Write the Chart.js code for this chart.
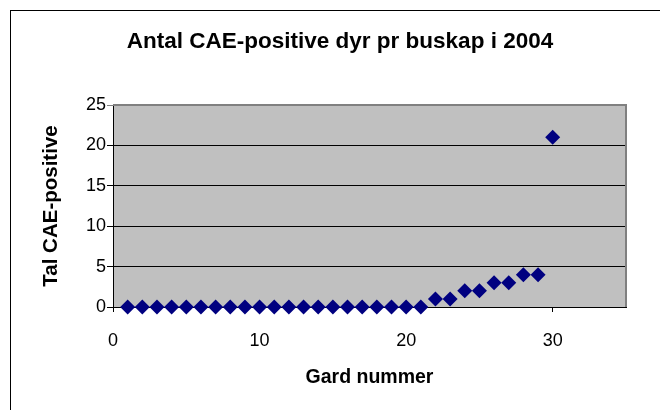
<!DOCTYPE html>
<html>
<head>
<meta charset="utf-8">
<script src="https://cdn.jsdelivr.net/npm/chart.js@4/dist/chart.umd.min.js"></script>
<style>
  body { margin: 0; background: #fff; }
  #wrap { width: 660px; height: 410px; }
</style>
</head>
<body>
<div id="wrap"><canvas id="c"></canvas></div>
<script>
// gard nummer and number of CAE-positive animals
const gard = [1, 2, 3, 4, 5, 6, 7, 8, 9, 10, 11, 12, 13, 14, 15, 16, 17, 18, 19, 20, 21, 22, 23, 24, 25, 26, 27, 28, 29, 30];
const positive = [0, 0, 0, 0, 0, 0, 0, 0, 0, 0, 0, 0, 0, 0, 0, 0, 0, 0, 0, 0, 0, 1, 1, 2, 2, 3, 3, 4, 4, 21];
const xTicks = [0, 10, 20, 30];

const points = gard.map((g, i) => ({ x: g, y: positive[i] }));

// grey plot area + outer frame
const plotBg = {
  id: "plotBg",
  beforeDraw(chart) {
    const { ctx, chartArea: a } = chart;
    ctx.save();
    ctx.fillStyle = "#C0C0C0";
    ctx.fillRect(a.left, a.top, a.right - a.left, a.bottom - a.top);
    ctx.strokeStyle = "#000";
    ctx.lineWidth = 1;
    ctx.strokeRect(10.5, 10.5, 700, 500);
    ctx.restore();
  },
  beforeDatasetsDraw(chart) {
    const { ctx, chartArea: a } = chart;
    ctx.save();
    ctx.strokeStyle = "#808080";
    ctx.lineWidth = 2;
    ctx.beginPath();
    ctx.moveTo(a.left, a.top);
    ctx.lineTo(a.right, a.top);
    ctx.lineTo(a.right, a.bottom);
    ctx.stroke();
    ctx.restore();
  }
};

new Chart(document.getElementById("c"), {
  type: "scatter",
  data: {
    datasets: [{
      data: points,
      pointStyle: "rectRot",
      pointRadius: 7.5,
      pointHoverRadius: 7.5,
      backgroundColor: "#000080",
      borderColor: "#000080",
      borderWidth: 0,
      clip: false
    }]
  },
  options: {
    responsive: true,
    maintainAspectRatio: false,
    animation: false,
    layout: { padding: { left: 20, right: 0, top: 0, bottom: 0 } },
    plugins: {
      legend: { display: false },
      tooltip: { enabled: false },
      title: {
        display: true,
        text: "Antal CAE-positive dyr pr buskap i 2004",
        color: "#000",
        font: { family: "Liberation Sans, Arial", size: 22.5, weight: "bold" },
        padding: { top: 28, bottom: 50 }
      }
    },
    scales: {
      x: {
        type: "linear",
        min: 0,
        max: 35,
        afterBuildTicks(scale) {
          scale.ticks = xTicks.map(v => ({ value: v }));
        },
        afterFit(scale) { scale.height = 103; },
        ticks: {
          color: "#000",
          padding: 18,
          maxRotation: 0,
          font: { family: "Liberation Sans, Arial", size: 18 }
        },
        grid: { drawOnChartArea: false, tickLength: 5, color: "#000" },
        border: { color: "#000", width: 1 },
        title: {
          display: true,
          text: "Gard nummer",
          color: "#000",
          font: { family: "Liberation Sans, Arial", size: 19.5, weight: "bold" },
          padding: { top: 0, bottom: 21 }
        }
      },
      y: {
        min: 0,
        max: 25,
        afterFit(scale) { scale.width = 93; },
        ticks: {
          stepSize: 5,
          color: "#000",
          padding: 1,
          font: { family: "Liberation Sans, Arial", size: 18 }
        },
        grid: {
          tickLength: 6,
          color: ctx => (ctx.tick && ctx.tick.value === 25 ? "#808080" : "#000"),
          lineWidth: 1
        },
        border: { color: "#000", width: 1 },
        title: {
          display: true,
          text: "Tal CAE-positive",
          color: "#000",
          font: { family: "Liberation Sans, Arial", size: 20.5, weight: "bold" },
          padding: { top: 19, bottom: 0 }
        }
      },
      // empty right-hand box that keeps the plot area off the right edge
      yRight: {
        position: "right",
        afterFit(scale) { scale.width = 34; },
        ticks: { display: false },
        grid: { display: false, drawOnChartArea: false },
        border: { display: false }
      }
    }
  },
  plugins: [plotBg]
});
</script>
</body>
</html>
